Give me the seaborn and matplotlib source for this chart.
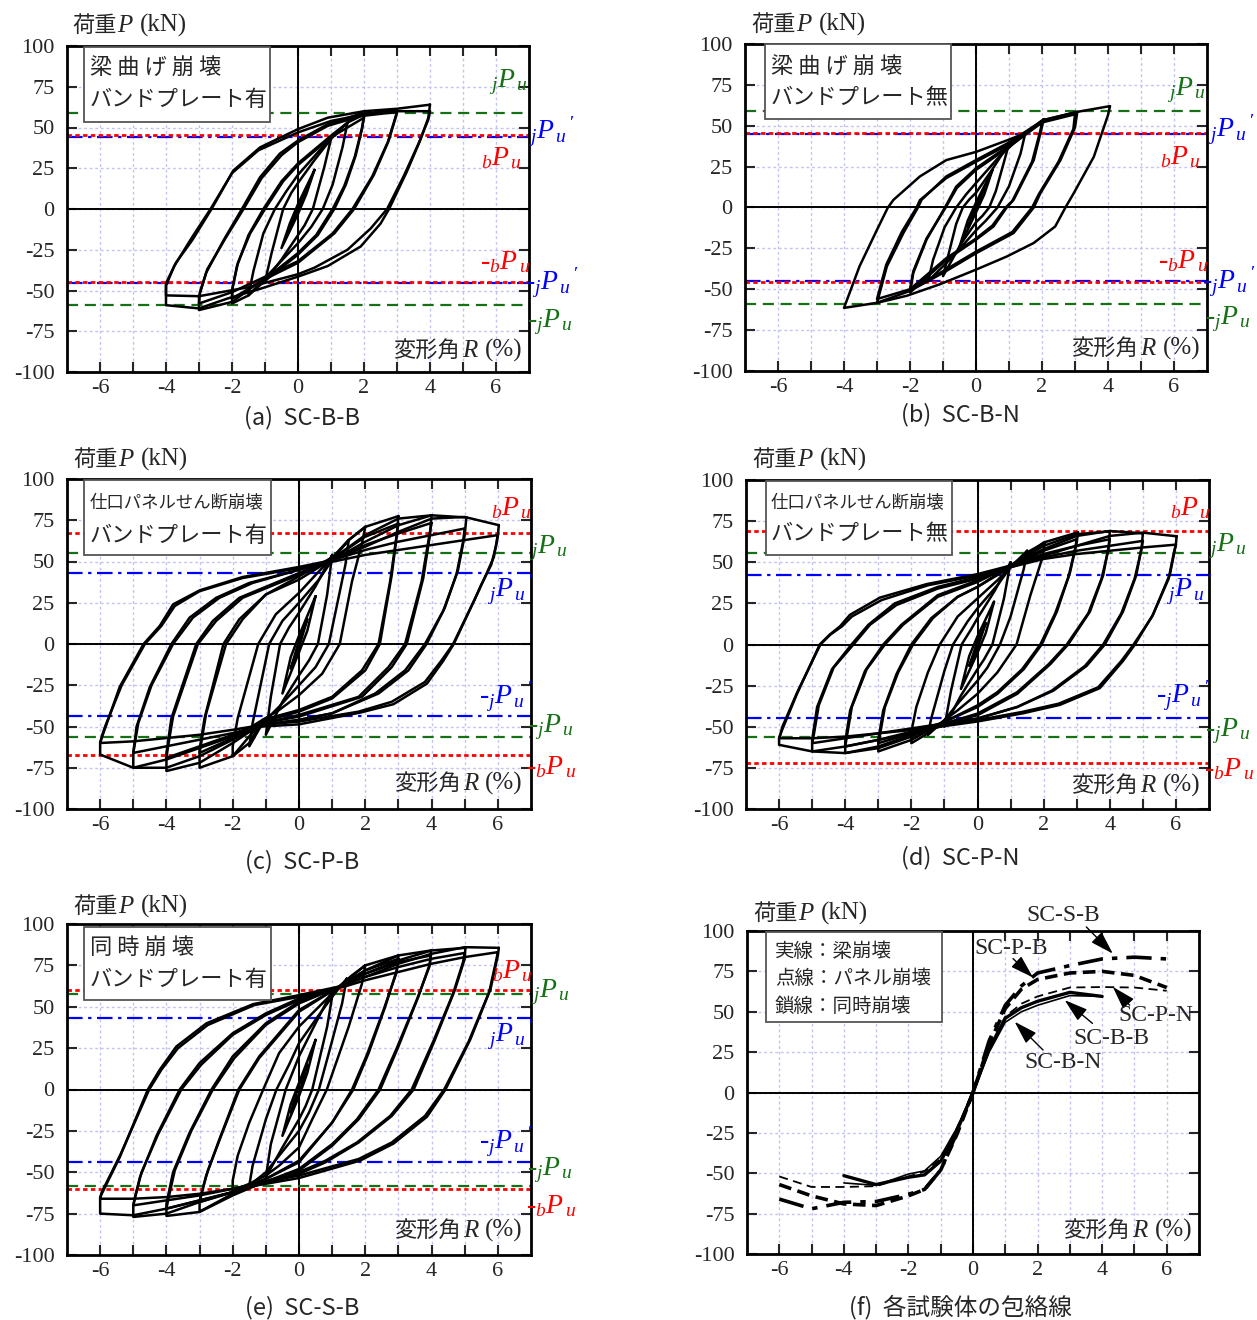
import numpy as np
import pandas as pd
import matplotlib
matplotlib.use("Agg")
import matplotlib.pyplot as plt
from matplotlib.patches import Rectangle
import seaborn as sns

# ---------------- data ----------------
# hysteresis loops, drift angle R (%) and load P (kN), one list per cycle

# (a) SC-B-B
a_R = [
    [0.25, 0, -0.25, 0, 0.25],
    [0.5, 0.25, 0, -0.5, -0.25, 0, 0.5],
    [1.0, 0.8, 0.45, 0.2, 0, -0.5, -1.0, -0.8, -0.45, -0.2, 0, 0.5, 1.0],
    [1.5, 1.35, 1.05, 0.75, 0.4, 0, -0.7, -1.5, -1.35, -1.05, -0.7, -0.35, 0, 0.7, 1.5],
    [2.0, 1.95, 1.75, 1.45, 1.1, 0.6, 0, -1.0, -1.5, -2.0, -2.0, -1.85, -1.5, -1.05, -0.5, 0, 1.0, 1.5, 2.0],
    [2.0, 1.93, 1.72, 1.4, 1.05, 0.55, 0, -1.0, -2.0, -1.98, -1.82, -1.45, -1.0, -0.45, 0, 1.0, 2.0],
    [3.0, 2.97, 2.75, 2.3, 1.7, 1.1, 0, -1.15, -2.0, -3.0, -3.0, -2.78, -2.25, -1.7, -1.15, -0.55, 0, 0.9, 1.9, 3.0],
    [3.0, 2.95, 2.72, 2.25, 1.65, 1.05, 0, -1.15, -2.0, -3.0, -2.97, -2.75, -2.2, -1.65, -1.1, -0.5, 0, 0.9, 1.9, 3.0],
    [4.0, 3.95, 3.7, 3.3, 2.76, 2.5, 1.9, 0.9, 0, -1.15, -2.15, -3.0, -4.0, -4.0, -3.7, -3.2, -2.62, -1.96, -1.15, 0, 0.9, 2.0, 3.0, 4.0],
    [4.0, 3.95, 3.65, 3.2, 2.7, 2.2, 1.5, 0.5, 0, -1.5, -3.0, -4.0, -4.0, -3.75, -3.2, -2.65, -2.0, -1.2, 0, 1.0, 2.0, 3.0, 4.0],
]
a_P = [
    [12, 1, -12, -1, 12],
    [24, 9, -3, -24, -9, 3, 24],
    [43, 26, 0, -10, -16, -31, -44.5, -27, 0, 10, 16, 30, 43],
    [53, 38, 15, 0, -11, -21, -36, -53, -38, -15, 0, 11, 21, 37, 53],
    [58, 50, 33, 15, 0, -16, -28, -44, -53, -58, -50, -35, -16, 0, 17, 28, 45, 53, 58],
    [56, 49, 32, 14, 0, -16, -27, -43, -55, -48, -33, -15, 0, 17, 27, 44, 56],
    [60.5, 57, 42, 21, 0, -15, -33, -44.5, -57, -62, -53.5, -39, -19, 0, 19.5, 34, 42, 52, 58.5, 60.5],
    [59.5, 56, 41, 20, 0, -15, -32, -43, -51, -58, -51, -37, -18, 0, 19, 33, 41, 51, 57, 59.5],
    [64, 56, 42, 23, 0, -9, -23, -35, -41.5, -49, -55, -61, -59, -45.5, -33, -19, 0, 23.6, 37.8, 49, 56, 60, 61.5, 64],
    [60, 55, 40, 20, 0, -12, -25, -36, -40, -48, -53.5, -53, -47, -35, -17, 0, 22, 36, 47, 54, 58, 60, 60],
]

# (b) SC-B-N
b_R = [
    [0.25, 0, -0.25, 0, 0.25],
    [0.5, 0.25, 0, -0.5, -0.25, 0, 0.5],
    [1.0, 0.85, 0.6, 0.4, 0.2, 0, -0.45, -1.0, -0.85, -0.6, -0.4, -0.2, 0, 0.45, 1.0],
    [1.5, 1.35, 1.0, 0.65, 0.3, 0, -0.7, -1.45, -1.3, -0.95, -0.6, -0.3, 0, 0.7, 1.5],
    [2.05, 2.0, 1.75, 1.14, 0.93, 0.53, 0, -0.9, -2.0, -1.9, -1.5, -0.94, -0.6, 0, 0.93, 2.05],
    [2.0, 1.95, 1.7, 1.1, 0.9, 0.5, 0, -0.9, -2.0, -1.9, -1.5, -0.92, -0.58, 0, 0.93, 2.0],
    [3.07, 3.0, 2.56, 1.95, 1.75, 1.14, 0, -1.0, -2.0, -3.0, -2.7, -2.2, -1.76, -1.65, -0.9, 0, 0.93, 2.05, 3.07],
    [3.0, 2.95, 2.5, 1.9, 1.7, 1.1, 0, -1.0, -2.0, -3.0, -2.72, -2.25, -1.8, -1.7, -0.9, 0, 0.93, 2.0, 3.0],
    [4.06, 4.0, 3.57, 2.96, 2.71, 2.4, 1.75, 0.93, 0, -1.1, -2.1, -3.0, -4.0, -3.53, -3.0, -2.67, -2.5, -1.7, -0.9, 0, 0.93, 1.44, 2.05, 3.07, 4.06],
]
b_P = [
    [12, 1, -12, -1, 12],
    [23, 8, -3, -24, -8, 3, 23],
    [39, 28, 10, 0, -5, -9, -22, -42, -30, -10, 0, 5, 9, 22, 39],
    [46, 33, 13, 0, -8, -14, -30, -45, -32, -12, 0, 8, 15, 31, 46],
    [54, 49.4, 29, 4.7, 0, -11.6, -19.7, -32, -52, -40, -19.7, 0, 12.8, 24, 37, 54],
    [52, 47, 28, 4, 0, -11, -19, -31, -50, -39, -19, 0, 12, 23, 36, 52],
    [58.5, 49, 29, 8.7, 0, -15.6, -28, -40, -51, -58.3, -36, -15.6, 0, 4.7, 19, 29, 39, 53.5, 58.5],
    [57, 48, 28, 8, 0, -15, -27, -39, -50, -56, -35, -15, 0, 4.5, 18, 28, 38, 52, 57],
    [62, 56.5, 31, 8.7, 0, -11.6, -21.7, -30, -38, -47, -54, -58.3, -61.4, -36, -13.6, 0, 4.7, 19, 29, 34, 41, 45, 53.5, 58.5, 62],
]

# (c) SC-P-B
c_R = [
    [0.25, 0, -0.25, 0, 0.25],
    [0.5, 0.25, 0, -0.5, -0.25, 0, 0.5],
    [1.0, 0.85, 0.57, 0.3, 0, -0.5, -1.0, -0.85, -0.57, -0.3, 0, 0.5, 1.0],
    [1.5, 1.4, 0.9, 0.5, 0, -0.6, -1.1, -1.5, -1.4, -0.9, -0.5, 0, 0.6, 1.04, 1.5],
    [2.0, 1.9, 1.6, 1.23, 0.7, 0, -0.6, -1.1, -1.5, -2.0, -2.0, -1.85, -1.23, -0.7, 0, 0.6, 1.04, 1.5, 2.0],
    [3.0, 2.95, 2.8, 2.44, 2.0, 1.0, 0, -1.1, -1.5, -2.0, -3.0, -3.0, -2.85, -2.28, -1.8, -1.0, 0, 1.04, 1.5, 2.0, 3.0],
    [3.0, 2.92, 2.75, 2.4, 1.9, 1.0, 0, -1.1, -2.0, -3.0, -2.95, -2.8, -2.2, -1.7, -1.0, 0, 1.04, 2.0, 3.0],
    [4.0, 3.95, 3.75, 3.25, 2.8, 1.9, 0, -1.1, -2.0, -3.0, -4.0, -4.0, -3.85, -3.1, -2.6, -1.8, 0, 1.04, 2.0, 3.0, 4.0],
    [4.0, 3.9, 3.7, 3.2, 2.7, 1.8, 0, -1.1, -2.0, -3.0, -4.0, -3.95, -3.8, -3.05, -2.5, -1.7, 0, 1.04, 2.0, 3.0, 4.0],
    [5.05, 5.0, 4.8, 4.4, 3.85, 3.3, 2.4, 1.0, 0, -1.1, -2.0, -3.0, -4.0, -5.0, -5.0, -4.9, -4.5, -3.85, -3.3, -2.5, -1.5, 0, 1.04, 2.0, 3.0, 4.0, 5.05],
    [5.0, 4.95, 4.75, 4.35, 3.8, 3.2, 2.3, 1.0, 0, -1.1, -2.0, -3.0, -4.0, -5.0, -4.95, -4.85, -4.45, -3.8, -3.2, -2.4, -1.4, 0, 1.04, 2.0, 3.0, 4.0, 5.0],
    [6.03, 6.0, 5.88, 5.6, 5.37, 4.67, 4.36, 3.86, 2.85, 1.84, 0, -1.1, -2.0, -3.0, -4.0, -5.0, -6.0, -6.0, -5.92, -5.41, -4.69, -4.2, -3.8, -3.0, -1.7, 0, 1.04, 2.0, 3.0, 4.0, 5.0, 6.03],
    [6.0, 5.95, 5.8, 5.5, 5.3, 4.65, 4.3, 3.8, 2.8, 1.8, 0, -1.1, -2.0, -3.0, -4.0, -5.0, -6.0, -5.95, -5.85, -5.35, -4.65, -4.15, -3.75, -3.0, -1.7, 0, 1.04, 2.0, 3.0, 4.0, 5.0, 6.0],
]
c_P = [
    [15, 2, -15, -2, 15],
    [29, 8, -5, -30, -8, 5, 29],
    [54, 30, 0, -10, -19, -35, -55, -32, 0, 10, 19, 35, 54],
    [63, 48, 0, -14, -25, -38, -48, -62, -48, 0, 14, 25, 39, 52, 63],
    [71, 61, 38, 0, -18, -31, -40, -46, -60, -68, -62, -45, 0, 18, 31, 44, 53, 63, 71],
    [77.5, 66, 42, 0, -16, -33, -41, -47, -56, -68, -75, -64, -45, 0, 15, 30, 41, 53, 63, 71, 77.5],
    [73, 62, 38, 0, -16, -32, -40, -46, -57, -66, -60, -42, 0, 15, 30, 39, 52, 65, 73],
    [78, 66, 40, 0, -14, -32, -44, -48, -60, -72, -77, -66, -45, 0, 14, 28, 43, 52, 66, 76, 78],
    [73.4, 62, 38, 0, -14, -32, -43, -48, -55, -62, -69, -62, -44, 0, 14, 28, 42, 51, 60, 67, 73.4],
    [76.7, 66, 45, 22, 0, -16, -30, -42, -46, -49, -58, -68, -75, -75, -66, -50, -26, 0, 16, 28, 37, 45, 51, 62, 72, 78, 76.7],
    [70, 62, 42, 20, 0, -16, -30, -42, -46, -49, -54, -58, -62, -66, -60, -48, -25, 0, 16, 28, 37, 45, 51, 57, 62, 66, 70],
    [72, 66, 52.7, 40, 30, 0, -10, -24, -36.5, -41.6, -48.7, -50, -56, -63, -70, -75, -67, -60, -55, -26, 0, 11, 24, 32.5, 40.6, 46.7, 51, 59, 68, 76, 77, 72],
    [66, 60, 48, 36, 27, 0, -10, -23, -35, -41, -47, -49, -52, -55, -57, -59, -60, -56, -50, -25, 0, 11, 23, 32, 40, 46, 50, 54, 57, 60, 63, 66],
]

# (d) SC-P-N
d_R = [
    [0.25, 0, -0.25, 0, 0.25],
    [0.5, 0.25, 0, -0.5, -0.25, 0, 0.5],
    [1.0, 0.8, 0.45, 0.2, 0, -0.5, -1.0, -0.8, -0.48, -0.2, 0, 0.5, 1.0],
    [1.5, 1.4, 1.0, 0.68, 0.3, 0, -0.6, -1.0, -1.5, -1.4, -1.0, -0.74, -0.3, 0, 0.6, 1.0, 1.5],
    [2.04, 1.95, 1.6, 1.18, 0.6, 0, -0.6, -1.0, -1.5, -2.0, -2.0, -1.85, -1.5, -1.14, -0.6, 0, 0.6, 1.0, 1.5, 2.04],
    [3.04, 3.0, 2.8, 2.4, 1.94, 1.4, 0.6, 0, -1.0, -2.0, -3.0, -3.0, -2.85, -2.45, -2.0, -1.4, -0.6, 0, 1.0, 2.0, 3.04],
    [3.0, 2.95, 2.75, 2.35, 1.9, 1.35, 0.6, 0, -1.0, -2.0, -3.0, -2.95, -2.8, -2.4, -1.95, -1.35, -0.6, 0, 1.0, 2.0, 3.0],
    [4.0, 3.97, 3.8, 3.4, 2.74, 2.2, 1.2, 0, -1.0, -2.0, -3.0, -4.0, -4.0, -3.85, -3.4, -2.85, -2.3, -1.2, 0, 1.0, 2.0, 3.0, 4.0],
    [4.0, 3.95, 3.75, 3.35, 2.7, 2.15, 1.2, 0, -1.0, -2.0, -3.0, -4.0, -3.95, -3.8, -3.35, -2.8, -2.25, -1.2, 0, 1.0, 2.0, 3.0, 4.0],
    [5.0, 4.97, 4.8, 4.4, 3.85, 3.3, 2.3, 1.2, 0, -1.0, -2.0, -3.0, -4.0, -5.0, -5.0, -4.85, -4.4, -3.81, -3.3, -2.5, -1.2, 0, 1.0, 2.0, 3.0, 4.0, 5.0],
    [5.0, 4.95, 4.75, 4.35, 3.8, 3.25, 2.25, 1.2, 0, -1.0, -2.0, -3.0, -4.0, -5.0, -4.95, -4.8, -4.35, -3.75, -3.25, -2.45, -1.2, 0, 1.0, 2.0, 3.0, 4.0, 5.0],
    [6.02, 6.0, 5.82, 5.31, 4.76, 4.4, 3.7, 2.49, 1.38, 0, -1.14, -2.0, -3.0, -4.0, -5.0, -6.0, -6.0, -5.93, -5.47, -4.77, -4.47, -4.16, -3.86, -2.95, -1.54, 0, 1.0, 2.0, 3.0, 4.0, 5.0, 6.02],
    [6.0, 5.95, 5.78, 5.28, 4.72, 4.35, 3.65, 2.45, 1.35, 0, -1.14, -2.0, -3.0, -4.0, -5.0, -6.0, -5.95, -5.9, -5.45, -4.75, -4.45, -4.1, -3.8, -2.9, -1.5, 0, 1.0, 2.0, 3.0, 4.0, 5.0, 6.0],
]
d_P = [
    [13, 2, -13, -2, 13],
    [26, 7, -5, -27, -7, 5, 26],
    [50, 28, 0, -9, -15, -31, -50, -28, 0, 9, 16, 32, 50],
    [57, 46, 17, 0, -14, -22, -36, -46, -55, -45, -16, 0, 14, 22, 36, 47, 57],
    [62, 52, 30, 0, -17, -30, -40, -46, -54, -60, -53, -38, -17, 0, 17, 28, 39, 47, 56, 62],
    [68.2, 62, 44, 20, 0, -15, -30, -38, -47, -58, -65, -58, -40, -18, 0, 16, 29, 35, 48, 62, 68.2],
    [64, 58, 41, 19, 0, -15, -29, -37, -47, -54, -60, -55, -38, -17, 0, 16, 29, 35, 47, 57, 64],
    [68.8, 60, 42, 20, 0, -12, -30, -43, -48, -56, -63, -66, -59, -40, -16, 0, 12, 30, 39, 48, 60, 67, 68.8],
    [64, 57, 40, 19, 0, -12, -29, -42, -48, -53, -58, -62, -56, -38, -15, 0, 12, 29, 38, 48, 55, 60, 64],
    [67.6, 60, 42, 20, 0, -13, -28, -38, -45, -49, -55, -62, -66, -65, -58, -38, -15, 0, 12, 25, 35, 41, 48, 58, 66, 69, 67.6],
    [63, 57, 40, 19, 0, -13, -28, -38, -45, -48, -51, -54, -57, -60, -55, -37, -14, 0, 12, 24, 34, 40, 47, 53, 57, 60, 63],
    [65.8, 61, 42.8, 18.3, 0, -10, -26.5, -36.7, -41.8, -46.8, -50, -54, -58, -62, -65, -61, -57, -53, -30.5, 0, 6, 11, 18, 28.5, 36.7, 42.8, 48, 54, 60, 66, 68, 65.8],
    [60.7, 57, 40, 17, 0, -10, -26, -36, -41, -46, -49, -52, -54, -56, -57, -57, -54, -50, -29, 0, 6, 11, 17, 27, 36, 42, 47, 52, 55, 57, 59, 60.7],
]

# (e) SC-S-B
e_R = [
    [0.25, 0, -0.25, 0, 0.25],
    [0.5, 0.25, 0, -0.5, -0.25, 0, 0.5],
    [1.04, 0.85, 0.4, 0.2, 0, -0.5, -1.0, -0.85, -0.4, -0.2, 0, 0.5, 1.04],
    [1.44, 1.3, 0.9, 0.6, 0.3, 0, -0.6, -1.0, -1.5, -1.4, -1.0, -0.68, -0.3, 0, 0.6, 1.0, 1.44],
    [2.0, 1.9, 1.5, 0.84, 0.4, 0, -0.6, -1.0, -1.5, -2.0, -2.0, -1.85, -1.5, -1.08, -0.6, 0, 0.6, 1.2, 1.6, 2.0],
    [3.0, 2.95, 2.6, 2.1, 1.64, 1.0, 0, -1.0, -1.5, -2.0, -3.0, -3.0, -2.8, -2.4, -1.83, -1.2, 0, 1.2, 2.0, 3.0],
    [3.0, 2.93, 2.55, 2.05, 1.6, 1.0, 0, -1.0, -1.5, -2.0, -3.0, -2.95, -2.75, -2.35, -1.8, -1.2, 0, 1.2, 2.0, 3.0],
    [3.98, 3.95, 3.6, 3.0, 2.45, 1.8, 1.0, 0, -1.3, -2.0, -3.0, -4.0, -4.0, -3.8, -3.3, -2.64, -2.0, -1.0, 0, 1.2, 2.0, 3.0, 3.98],
    [3.98, 3.93, 3.55, 2.95, 2.4, 1.75, 1.0, 0, -1.3, -2.0, -3.0, -4.0, -3.95, -3.75, -3.25, -2.6, -1.95, -1.0, 0, 1.2, 2.0, 3.0, 3.98],
    [5.02, 5.0, 4.7, 4.1, 3.46, 2.8, 1.8, 0.8, 0, -1.3, -2.0, -3.0, -4.0, -5.0, -5.0, -4.8, -4.3, -3.6, -3.0, -2.0, -1.0, 0, 1.2, 2.0, 3.0, 4.0, 5.02],
    [5.0, 4.95, 4.65, 4.05, 3.4, 2.75, 1.75, 0.8, 0, -1.3, -2.0, -3.0, -4.0, -5.0, -4.95, -4.75, -4.25, -3.55, -2.95, -2.0, -1.0, 0, 1.2, 2.0, 3.0, 4.0, 5.0],
    [6.03, 6.0, 5.78, 5.17, 4.42, 3.86, 2.85, 1.84, 0, -1.3, -2.0, -3.0, -4.0, -5.0, -6.0, -6.0, -5.41, -4.56, -4.2, -3.7, -2.79, -1.38, 0, 1.34, 2.0, 3.0, 4.0, 5.0, 6.03],
    [6.0, 5.96, 5.74, 5.12, 4.38, 3.8, 2.8, 1.8, 0, -1.3, -2.0, -3.0, -4.0, -5.0, -6.0, -5.95, -5.38, -4.52, -4.15, -3.65, -2.75, -1.35, 0, 1.34, 2.0, 3.0, 4.0, 5.0, 6.0],
]
e_P = [
    [15, 3, -14, -3, 15],
    [30, 10, -4, -28, -9, 4, 30],
    [61, 38, 0, -10, -18, -35, -53, -33, 0, 10, 20, 40, 61],
    [67, 52, 22, 0, -14, -25, -40, -50, -58, -46, -18, 0, 15, 28, 45, 56, 67],
    [75, 64, 38, 0, -18, -35, -46, -52, -57, -61, -55, -40, -20, 0, 22, 38, 50, 62, 69, 75],
    [81, 72, 50, 22, 0, -20, -44, -54, -58, -63, -73.8, -68, -52, -30, 0, 20, 48, 62, 75, 81],
    [79, 70, 48, 21, 0, -20, -43, -54, -58, -62, -68, -63, -49, -28, 0, 19, 47, 62, 72, 79],
    [84, 76, 56, 26, 0, -18, -34, -49, -58, -64, -74, -76.4, -69, -50, -26, 0, 20, 40, 53, 62, 72, 81, 84],
    [81, 74, 54, 25, 0, -18, -33, -48, -58, -62, -67, -72, -67, -49, -25, 0, 19, 39, 52, 62, 70, 77, 81],
    [85.6, 79, 60, 30, 0, -16, -32, -44, -51, -58, -62, -68, -75, -77, -70, -53, -28, 0, 16, 34, 46, 55, 62, 70, 78, 84, 85.6],
    [82.5, 77, 58, 29, 0, -16, -32, -43, -50, -57, -60, -64, -67, -70, -65, -50, -27, 0, 15, 33, 45, 54, 62, 68, 74, 79, 82.5],
    [85.6, 81, 60.8, 30.3, 0, -16.5, -32.7, -43, -53.5, -58, -62, -67, -72, -76, -75, -65, -41, 0, 12, 26, 40, 51.6, 57, 62.8, 68, 76, 82, 86, 85.6],
    [83, 79, 59, 29, 0, -16, -32, -42, -52, -57, -60, -63, -65, -66, -66, -62, -39, 0, 12, 25, 39, 51, 56, 62, 66, 71, 76, 80, 83],
]

# reference strengths per panel (a)..(e): [positive, negative]
green_lines = [[58.7, -59.1], [59.1, -58.9], [55.2, -56.2], [55.5, -56.5], [58.0, -58.5]]   # jPu
red_lines = [[45.1, -44.7], [45.3, -45.3], [67.3, -67.3], [69.0, -72.0], [60.4, -60.4]]     # bPu
blue_lines = [[44.3, -45.3], [44.7, -44.7], [43.0, -43.6], [42.5, -44.5], [43.3, -44.0]]    # jPu'

# (f) skeleton curves
env_R = [-6, -5, -4, -3, -2, -1.5, -1, -0.5, 0, 0.5, 1, 1.5, 2, 3, 4, 5, 6]
env_PB = [-57, -64, -69, -70, -64, -60, -48, -26, 0, 30, 52, 64, 70, 74, 75, 72.5, 65]
env_PN = [-52, -58.5, -58.5, -58, -52, -49, -41, -22, 0, 27, 47, 55, 59.5, 65, 65.3, 65, 63]
env_SB = [-66, -72, -68, -67.5, -63, -60, -48, -25, 0, 32, 54, 66, 74, 78.6, 82.7, 83.8, 82.7]
envB_R = [-4, -3, -2, -1.5, -1, -0.5, 0, 0.5, 1, 1.5, 2, 3, 4]
env_BB = [-51.5, -57, -52.5, -51, -42.5, -24, 0, 27, 46, 52.5, 56.5, 62, 59.5]
env_BN = [-56, -57.5, -50.5, -48.5, -39.5, -22, 0, 25, 43.5, 50, 54, 60, 59.5]

captions = ["(a)  SC-B-B", "(b)  SC-B-N", "(c)  SC-P-B", "(d)  SC-P-N", "(e)  SC-S-B", "(f)  各試験体の包絡線"]

# ---------------- style ----------------
sns.set_style("ticks")
plt.rcParams['font.family'] = ['Liberation Serif', 'Noto Sans CJK JP']
plt.rcParams['mathtext.fontset'] = 'custom'
plt.rcParams['mathtext.it'] = 'Liberation Serif:italic'
plt.rcParams['mathtext.rm'] = 'Liberation Serif'
plt.rcParams['axes.unicode_minus'] = False

W, H = 1257, 1320
fig = plt.figure(figsize=(W / 100, H / 100), dpi=100)
fig.patch.set_facecolor('white')

GREEN, RED, BLUE = '#167016', '#ff0000', '#0000ff'
JP = 'Noto Sans CJK JP'


def fx(x):
    return x / W


def fy(y):
    return 1 - y / H


def add_ax(l, t, r, b):
    return fig.add_axes([l / W, 1 - b / H, (r - l) / W, (b - t) / H])


def style_axes(ax):
    ax.set_xlim(-7, 7)
    ax.set_ylim(-100, 100)
    ax.set_xticks([-6, -4, -2, 0, 2, 4, 6])
    ax.set_xticks([-5, -3, -1, 1, 3, 5], minor=True)
    ax.set_yticks([-100, -75, -50, -25, 0, 25, 50, 75, 100])
    ax.set_axisbelow(True)
    ax.grid(True, which='both', color='#c4c4f2', ls=(0, (2, 2)), lw=1.0)
    ax.axhline(0, color='black', lw=1.4, zorder=1.5)
    ax.axvline(0, color='black', lw=1.4, zorder=1.5)
    ax.tick_params(which='both', direction='in', top=True, right=True,
                   length=7, width=1.5, labelsize=16)
    ax.tick_params(axis='y', pad=9)
    ax.tick_params(axis='x', pad=5)
    for s in ax.spines.values():
        s.set_linewidth(2)
        s.set_color('black')
    ax.set_xlabel('')
    ax.set_ylabel('')


def loops_df(R_list, P_list):
    rows = []
    for i, (rr, pp) in enumerate(zip(R_list, P_list)):
        for r, p in zip(rr, pp):
            rows.append((i, r, p))
    return pd.DataFrame(rows, columns=['loop', 'R', 'P'])


def axis_titles(ylab_xy, xlab_ry):
    x0, y0 = ylab_xy
    fig.text(fx(x0), fy(y0 + 8), '荷重', family=JP, fontsize=16, ha='left', va='baseline')
    fig.text(fx(x0 + 45), fy(y0 + 8), 'P', family='Liberation Serif', style='italic',
             fontsize=18, ha='left', va='baseline')
    fig.text(fx(x0 + 68), fy(y0 + 8), '(kN)', family='Liberation Serif', fontsize=18,
             ha='left', va='baseline')
    r, y1 = xlab_ry
    fig.text(fx(r - 62), fy(y1 + 8), '変形角', family=JP, fontsize=16, ha='right', va='baseline')
    fig.text(fx(r - 60), fy(y1 + 8), 'R', family='Liberation Serif', style='italic',
             fontsize=18, ha='left', va='baseline')
    fig.text(fx(r), fy(y1 + 8), '(%)', family='Liberation Serif', fontsize=18,
             ha='right', va='baseline')


def info_box(rect, lines, ys, x_text, sizes):
    l, t, r, b = rect
    fig.add_artist(Rectangle((fx(l), fy(b)), (r - l) / W, (b - t) / H,
                             transform=fig.transFigure, facecolor='white',
                             edgecolor='#555555', lw=1.3, zorder=5))
    for txt, y, s in zip(lines, ys, sizes):
        fig.text(fx(x_text), fy(y), txt, family=JP, fontsize=s, ha='left',
                 va='center', zorder=6)


# layout in pixels (left, top, right, bottom)
ax_px = [(67, 46, 529, 372), (745, 44, 1207, 371), (67, 479, 531, 809),
         (746, 480, 1209, 809), (67, 924, 531, 1255), (747, 931, 1199, 1254)]
ylab_pos = [(72, 24), (751, 23), (73, 458), (752, 458), (73, 905), (753, 912)]
xlab_pos = [(522, 349), (1200, 347), (523, 782), (1200, 784), (523, 1229), (1192, 1229)]
cap_pos = [(302, 418), (960, 415), (302, 862), (960, 858), (302, 1308), (960, 1307)]

boxes = [
    ((84, 47, 270, 122), ["梁 曲 げ 崩 壊", "バンドプレート有"], [68, 100], 90, [16, 16]),
    ((765, 44, 951, 119), ["梁 曲 げ 崩 壊", "バンドプレート無"], [67, 98], 771, [16, 16]),
    ((84, 480, 271, 555), ["仕口パネルせん断崩壊", "バンドプレート有"], [503, 535], 90, [12.5, 16]),
    ((766, 481, 952, 555), ["仕口パネルせん断崩壊", "バンドプレート無"], [503, 534], 771, [12.5, 16]),
    ((84, 927, 271, 1000), ["同 時 崩 壊", "バンドプレート有"], [948, 980], 90, [16, 16]),
    ((766, 932, 942, 1022), ["実線：梁崩壊", "点線：パネル崩壊", "鎖線：同時崩壊"],
     [951, 978, 1006], 775, [14, 14, 14]),
]

JPU = r'${}_{j}P_{\,u}$'
JPUP = r'${}_{j}P_{\,u}\,{}^{\prime}$'
BPU = r'${}_{b}P_{\,u}$'
ref_labels = [
    [(JPU, GREEN, 508, 82), (JPUP, BLUE, 551, 132), (BPU, RED, 501, 158),
     ('-' + BPU, RED, 505, 262), ('-' + JPUP, BLUE, 552, 283), ('-' + JPU, GREEN, 550, 322)],
    [(JPU, GREEN, 1186, 90), (JPUP, BLUE, 1231, 130), (BPU, RED, 1180, 157),
     ('-' + BPU, RED, 1183, 261), ('-' + JPUP, BLUE, 1229, 282), ('-' + JPU, GREEN, 1228, 319)],
    [(BPU, RED, 511, 508), (JPU, GREEN, 548, 548), (JPUP, BLUE, 510, 590),
     ('-' + JPUP, BLUE, 506, 697), ('-' + JPU, GREEN, 551, 727), ('-' + BPU, RED, 551, 767)],
    [(BPU, RED, 1190, 508), (JPU, GREEN, 1227, 546), (JPUP, BLUE, 1189, 590),
     ('-' + JPUP, BLUE, 1183, 696), ('-' + JPU, GREEN, 1228, 731), ('-' + BPU, RED, 1229, 769)],
    [(BPU, RED, 512, 971), (JPU, GREEN, 550, 992), (JPUP, BLUE, 510, 1035),
     ('-' + JPUP, BLUE, 506, 1142), ('-' + JPU, GREEN, 550, 1170), ('-' + BPU, RED, 551, 1206)],
]

loop_sets = [(a_R, a_P), (b_R, b_P), (c_R, c_P), (d_R, d_P), (e_R, e_P)]

# ---------------- hysteresis panels ----------------
for k in range(5):
    ax = add_ax(*ax_px[k])
    df = loops_df(*loop_sets[k])
    sns.lineplot(data=df, x='R', y='P', units='loop', estimator=None, sort=False,
                 color='black', lw=1.8, ax=ax, legend=False, zorder=3)
    for v in green_lines[k]:
        ax.axhline(v, color=GREEN, ls=(0, (5, 3)), lw=1.6, zorder=2)
    for v in blue_lines[k]:
        ax.axhline(v, color=BLUE, ls=(0, (7, 2.5, 1.5, 2.5)), lw=1.6, zorder=2)
    for v in red_lines[k]:
        ax.axhline(v, color=RED, ls=(0, (1.6, 1.2)), lw=2.0, zorder=2.1)
    style_axes(ax)
    for txt, col, x, y in ref_labels[k]:
        fig.text(fx(x), fy(y), txt, color=col, fontsize=20, ha='center', va='center')

# ---------------- (f) skeleton curves ----------------
axf = add_ax(*ax_px[5])
sns.lineplot(x=env_R, y=env_SB, ax=axf, color='black', lw=2.6,
             linestyle=(0, (7, 2.5, 1.5, 2.5)), sort=False, zorder=3)
sns.lineplot(x=env_R, y=env_PB, ax=axf, color='black', lw=2.6,
             linestyle=(0, (3.5, 1.8)), sort=False, zorder=3)
sns.lineplot(x=env_R, y=env_PN, ax=axf, color='black', lw=1.3,
             linestyle=(0, (5, 3)), sort=False, zorder=3)
sns.lineplot(x=envB_R, y=env_BB, ax=axf, color='black', lw=2.4, sort=False, zorder=3)
sns.lineplot(x=envB_R, y=env_BN, ax=axf, color='black', lw=1.2, sort=False, zorder=3)
style_axes(axf)

notes = [("SC-S-B", (2.79, 109.7), (3.51, 102.5), (4.33, 86.0)),
         ("SC-P-B", (1.19, 89.1), (1.24, 82.9), (1.86, 71.2)),
         ("SC-P-N", (5.65, 47.5), (4.85, 54.1), (4.33, 65.4)),
         ("SC-B-B", (4.30, 33.5), (3.70, 42.8), (2.84, 57.2)),
         ("SC-B-N", (2.79, 18.7), (2.17, 26.3), (1.29, 43.8))]
for name, txy, tail, head in notes:
    axf.text(txy[0], txy[1], name, family='Liberation Serif', fontsize=17,
             ha='center', va='center', clip_on=False, zorder=6)
    axf.annotate('', xy=head, xytext=tail, annotation_clip=False,
                 arrowprops=dict(arrowstyle='-|>,head_length=0.9,head_width=0.28',
                                 color='black', lw=1.0, mutation_scale=16,
                                 shrinkA=0, shrinkB=0))

# ---------------- titles, boxes, captions ----------------
for k in range(6):
    axis_titles(ylab_pos[k], xlab_pos[k])
    info_box(*boxes[k])
    fig.text(fx(cap_pos[k][0]), fy(cap_pos[k][1]), captions[k], family=JP,
             fontsize=17, ha='center', va='center')

fig.savefig('out.png', dpi=100, facecolor='white')
